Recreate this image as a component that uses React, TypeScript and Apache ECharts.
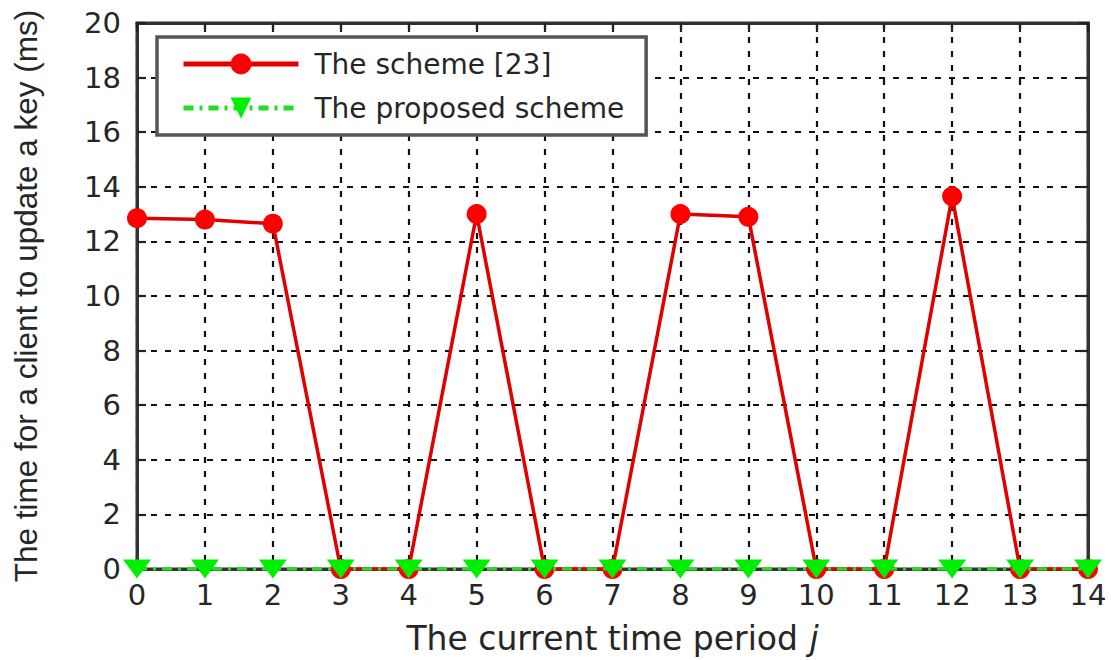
import React, { useEffect, useRef } from "react";
import * as echarts from "echarts";

const periods = [0, 1, 2, 3, 4, 5, 6, 7, 8, 9, 10, 11, 12, 13, 14];
const scheme23 = [12.85, 12.8, 12.65, 0, 0, 13.0, 0, 0, 13.0, 12.9, 0, 0, 13.65, 0, 0];
const proposed = [0, 0, 0, 0, 0, 0, 0, 0, 0, 0, 0, 0, 0, 0, 0];
const seriesNames = ["The scheme [23]", "The proposed scheme"];
const yTitle = "The time for a client to update a key (ms)";
const xTitle = "The current time period";

const WIDE = "DejaVu Sans, Arial, sans-serif";
const NARROW = "Liberation Sans, Arial, sans-serif";
const INK = "#262626";

export default function App() {
  const ref = useRef<HTMLDivElement>(null);
  useEffect(() => {
    if (!ref.current) return;
    const chart = echarts.init(ref.current, null, { renderer: "svg" });
    const grid = { left: 137, right: 23, top: 23, bottom: 90 };
    const split = { show: true, lineStyle: { color: "#111", width: 2.2, type: [6, 8] as any } };
    const frameLine = { show: true, onZero: false, lineStyle: { color: "#333", width: 3 } };
    const tick = { show: true, inside: true, length: 9, lineStyle: { color: "#222", width: 2.2 } };
    chart.setOption({
      animation: false,
      backgroundColor: "#fff",
      textStyle: { fontFamily: WIDE },
      grid: { ...grid, show: true, borderColor: "#333", borderWidth: 3, backgroundColor: "transparent" },
      legend: {
        left: 157,
        top: 37,
        orient: "vertical",
        backgroundColor: "#fff",
        borderColor: "#555",
        borderWidth: 3.5,
        padding: [13, 22, 13, 24],
        itemWidth: 115,
        itemHeight: 26,
        itemGap: 16,
        textStyle: { fontSize: 28, color: INK, fontFamily: WIDE, padding: [0, 0, 0, 11] },
        data: [
          { name: seriesNames[0], lineStyle: { width: 5 } },
          { name: seriesNames[1], lineStyle: { width: 5 } },
        ],
      },
      xAxis: [
        {
          type: "value",
          min: 0,
          max: 14,
          interval: 1,
          axisLine: frameLine,
          axisTick: tick,
          axisLabel: { fontSize: 29, color: INK, margin: 11, fontFamily: WIDE },
          splitLine: split,
          name: "{t|" + xTitle + "}   {j|j}",
          nameLocation: "middle",
          nameGap: 53,
          nameTextStyle: {
            rich: {
              t: { fontSize: 33, color: INK, fontFamily: WIDE },
              j: { fontSize: 33, color: INK, fontFamily: WIDE, fontStyle: "italic" },
            },
          },
        },
        {
          type: "value",
          position: "top",
          min: 0,
          max: 14,
          interval: 1,
          axisLine: frameLine,
          axisTick: tick,
          axisLabel: { show: false },
          splitLine: { show: false },
        },
      ],
      yAxis: [
        {
          type: "value",
          min: 0,
          max: 20,
          interval: 2,
          axisLine: frameLine,
          axisTick: tick,
          axisLabel: { fontSize: 29, color: INK, margin: 16, fontFamily: WIDE },
          splitLine: split,
          name: yTitle,
          nameLocation: "middle",
          nameGap: 95,
          nameTextStyle: { fontSize: 31.5, color: INK, fontFamily: NARROW },
        },
        {
          type: "value",
          position: "right",
          min: 0,
          max: 20,
          interval: 2,
          axisLine: frameLine,
          axisTick: tick,
          axisLabel: { show: false },
          splitLine: { show: false },
        },
      ],
      series: [
        {
          name: seriesNames[0],
          type: "line",
          data: periods.map((p, i) => [p, scheme23[i]]),
          symbol: "circle",
          symbolSize: 20,
          itemStyle: { color: "#ff0000" },
          lineStyle: { color: "#e00000", width: 3.5 },
          z: 3,
        },
        {
          name: seriesNames[1],
          type: "line",
          data: periods.map((p, i) => [p, proposed[i]]),
          symbol: "triangle",
          symbolRotate: 180,
          symbolSize: [28, 19],
          itemStyle: { color: "#00ee00" },
          lineStyle: { color: "#22dd22", width: 3.5, type: [10, 6, 3, 6] as any },
          z: 4,
        },
      ],
    });
    return () => chart.dispose();
  }, []);
  return (
    <div
      ref={ref}
      style={{ position: "absolute", left: 0, top: 0, width: 1111, height: 660 }}
    />
  );
}
